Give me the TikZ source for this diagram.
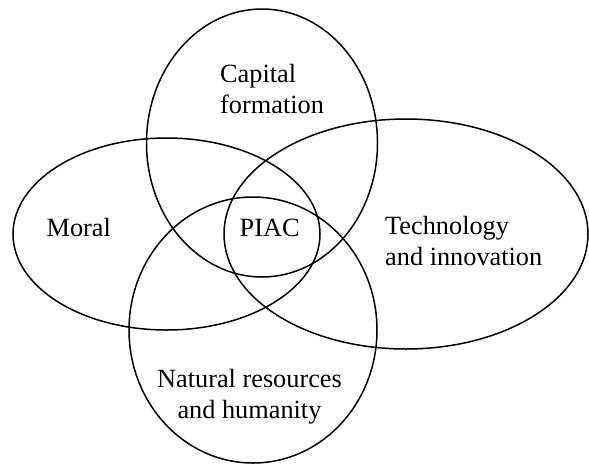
\documentclass[tikz,border=0pt]{standalone}
\usepackage{fontspec}
\setmainfont{Liberation Serif}
\begin{document}
\begin{tikzpicture}[x=1pt,y=-1pt,
  ring/.style={draw=black,line width=1.5pt},
  lbl/.style={inner sep=0pt,font=\fontsize{26.3}{30.5}\selectfont}]
\useasboundingbox (0,0) rectangle (589,464);
% centres
\coordinate (ccap) at (262,143);
\coordinate (cmor) at (166.5,234);
\coordinate (ctec) at (406,234);
\coordinate (cnat) at (253,330);
% ellipses
\draw[ring] (ccap) ellipse [x radius=115.5pt, y radius=134pt];
\draw[ring] (cmor) ellipse [x radius=153.5pt, y radius=96pt];
\draw[ring] (ctec) ellipse [x radius=182pt, y radius=115pt];
\draw[ring] (cnat) ellipse [x radius=124pt, y radius=133pt];
% labels (base anchor of a multi-line node = baseline of its last line)
\node[lbl,anchor=base west,align=left] (capital) at (220,113) {Capital\\formation};
\node[lbl,anchor=base west] (moral) at (46.5,236) {Moral};
\node[lbl,anchor=base west] (piac) at (239.5,236) {PIAC};
\node[lbl,anchor=base west,align=left] (tech) at (385,265) {Technology\\and innovation};
\node[lbl,anchor=base,align=center] (nat) at (249.5,418) {Natural resources\\and humanity};
\end{tikzpicture}
\end{document}
